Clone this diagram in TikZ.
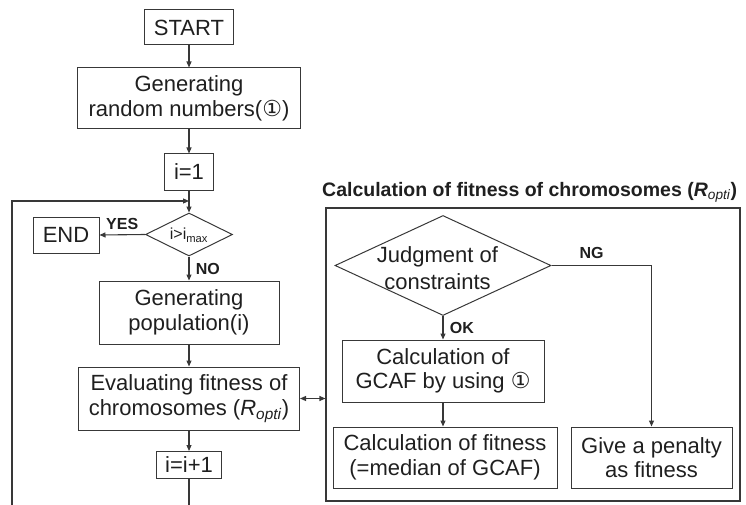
\documentclass[tikz,border=0pt]{standalone}
\usepackage{fontspec}
\setmainfont{Liberation Sans}
\newfontfamily\symfont{DejaVu Sans}
\usetikzlibrary{shapes.geometric,arrows.meta}

\definecolor{linec}{gray}{0.22}
\definecolor{textc}{gray}{0.12}
\newcommand{\circone}{{\symfont\char"2460}}

\tikzset{
  box/.style={draw=linec, line width=1pt, inner sep=0pt, align=center,
    text=textc, font=\fontsize{22}{24.5}\selectfont},
  decision/.style={diamond, draw=linec, line width=1pt, inner sep=0pt},
  flow/.style={draw=linec, line width=1.1pt, -{Triangle[length=6pt,width=5pt]}},
  plain/.style={draw=linec, line width=1.1pt},
  tag/.style={text=textc, font=\bfseries\fontsize{16}{18}\selectfont},
}

\begin{document}
\begin{tikzpicture}[x=1pt,y=-1pt]
  \useasboundingbox (0,0) rectangle (746,505);

  % main loop column
  \node[box, minimum width=89pt, minimum height=35pt] (start) at (189,27.5) {START};
  \node[box, minimum width=223pt, minimum height=61pt] (rand) at (189,98.5)
    {Generating\\random numbers(\circone)};
  \node[box, minimum width=49pt, minimum height=36pt] (i1) at (189,172) {i=1};
  \node[decision, minimum width=87pt, minimum height=43pt] (cond) at (189,234.5) {};
  \node[text=textc, font=\fontsize{16}{18}\selectfont] (condtxt) at (189,235)
    {i>i\textsubscript{max}};
  \node[box, minimum width=66pt, minimum height=36pt] (endn) at (66,235) {END};
  \node[box, minimum width=180pt, minimum height=63pt] (pop) at (189,312.5)
    {Generating\\population(i)};
  \node[box, minimum width=221pt, minimum height=63pt] (eval) at (189,398.5)
    {Evaluating fitness of\\chromosomes (\textit{R}\textsubscript{\textit{opti}})};
  \node[box, minimum width=65pt, minimum height=27pt] (inc) at (189,465) {i=i+1};

  \coordinate (loopbot) at (12,505);
  \coordinate (loopcorner) at (12,201);
  \coordinate (loopin) at (189,201);
  \coordinate (colbot) at (189,505);

  \draw[flow] (start) -- (rand);
  \draw[flow] (rand) -- (i1);
  \draw[flow] (i1) -- (cond.north);
  \draw[flow] (loopbot) -- (loopcorner) -- (loopin);
  \draw[flow] (cond.west) -- (endn.east)
    node[tag, midway, above=1pt] (yes) {YES};
  \draw[flow] (cond.south) -- (pop.north)
    node[tag, midway, right=3pt] (no) {NO};
  \draw[flow] (pop) -- (eval);
  \draw[flow] (eval) -- (inc);
  \draw[plain] (inc.south) -- (colbot);

  % fitness calculation block
  \node[draw=linec, line width=1.1pt, minimum width=414pt, minimum height=293pt,
    inner sep=0pt] (outer) at (533,354.5) {};
  \node[anchor=base west, inner sep=0pt, text=textc,
    font=\bfseries\fontsize{19.5}{22}\selectfont] (title) at (322,196)
    {Calculation of fitness of chromosomes (\textit{R}\textsubscript{\mdseries\textit{opti}})};

  \node[decision, minimum width=216pt, minimum height=100pt] (judge) at (443,265.5) {};
  \node[align=center, text=textc, font=\fontsize{22}{27}\selectfont, inner sep=0pt]
    (judgetxt) at (437.5,268) {Judgment of\\constraints};
  \node[box, minimum width=202pt, minimum height=62pt] (gcaf) at (443,371)
    {Calculation of\\GCAF by using \circone};
  \node[box, minimum width=224pt, minimum height=61pt] (fit) at (445,457.5)
    {Calculation of fitness\\(=median of GCAF)};
  \node[box, minimum width=161pt, minimum height=61pt] (pen) at (651.5,457.5)
    {Give a penalty\\as fitness};

  \draw[flow] (judge.south) -- (gcaf.north)
    node[tag, midway, right=3pt] (ok) {OK};
  \draw[flow] (gcaf.south) -- (gcaf.south |- fit.north);
  \draw[flow] (judge.east) -| (pen.north)
    node[tag, pos=0.2, above=3pt] (ng) {NG};

  \draw[draw=linec, line width=1.1pt,
    {Triangle[length=6pt,width=5pt]}-{Triangle[length=6pt,width=5pt]}]
    (eval.east) -- (eval.east -| outer.west);
\end{tikzpicture}
\end{document}
